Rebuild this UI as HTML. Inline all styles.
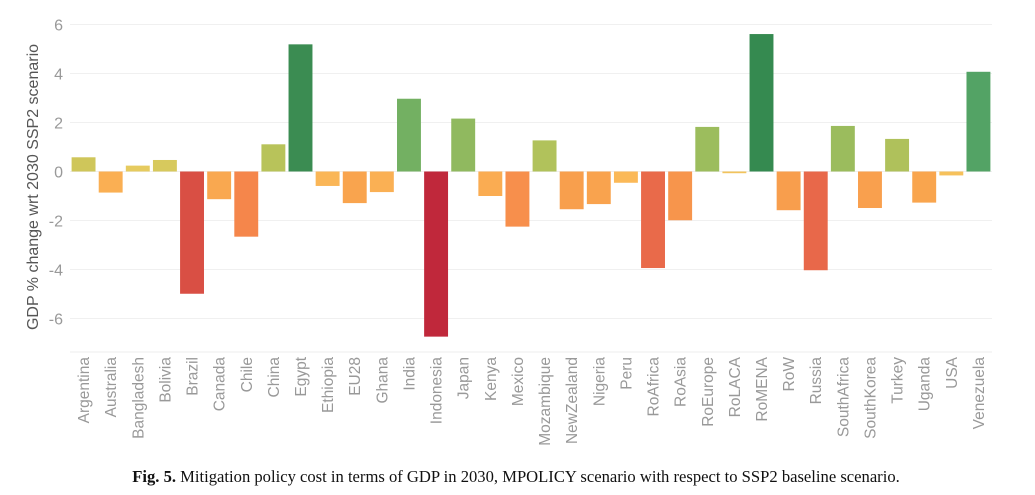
<!DOCTYPE html>
<html><head><meta charset="utf-8"><style>
body{margin:0;background:#fff;width:1035px;height:495px;overflow:hidden}
svg{display:block}
</style></head><body>
<svg id="chart" width="1035" height="495" xmlns="http://www.w3.org/2000/svg">
<g id="grid"></g>
<g id="bars"></g>
<g id="yticks"></g>
<g id="xlabels"></g>
<line x1="70" y1="352" x2="992" y2="352" stroke="#eeeeee" stroke-width="1"/>
<text transform="translate(38,187) rotate(-90)" text-anchor="middle" font-family="Liberation Sans, sans-serif" font-size="16" fill="#555">GDP % change wrt 2030 SSP2 scenario</text>
<text x="516" y="482" text-anchor="middle" font-family="Liberation Serif, serif" font-size="16.6" fill="#111"><tspan font-weight="bold">Fig. 5.</tspan> Mitigation policy cost in terms of GDP in 2030, MPOLICY scenario with respect to SSP2 baseline scenario.</text>
</svg>
<script>
const categories=["Argentina","Australia","Bangladesh","Bolivia","Brazil","Canada","Chile","China","Egypt","Ethiopia","EU28","Ghana","India","Indonesia","Japan","Kenya","Mexico","Mozambique","NewZealand","Nigeria","Peru","RoAfrica","RoAsia","RoEurope","RoLACA","RoMENA","RoW","Russia","SouthAfrica","SouthKorea","Turkey","Uganda","USA","Venezuela"];
const values=[0.58,-0.86,0.24,0.47,-4.99,-1.13,-2.66,1.11,5.19,-0.59,-1.29,-0.84,2.97,-6.74,2.16,-1.0,-2.25,1.27,-1.54,-1.33,-0.46,-3.94,-1.99,1.82,-0.07,5.61,-1.58,-4.03,1.86,-1.49,1.33,-1.27,-0.16,4.07];
const yTicks=[6,4,2,0,-2,-4,-6];
const NS="http://www.w3.org/2000/svg";
const plotL=70,plotR=992,zeroY=171.5,pxPerUnit=24.5;
const band=(plotR-plotL)/categories.length;
function y(v){return zeroY-v*pxPerUnit;}
function x(i){return plotL+i*band;}
function color(v){
  const stops=[[-6.7,[192,40,59]],[-5,[217,79,68]],[-4,[232,105,74]],[-2.5,[246,138,75]],[-1.3,[249,164,78]],[-0.3,[251,189,90]],[0.3,[228,204,96]],[0.6,[205,198,90]],[1.1,[184,195,90]],[1.8,[157,189,93]],[3,[114,176,98]],[4,[85,164,102]],[5.2,[59,140,82]],[5.7,[52,138,79]]];
  if(v<=stops[0][0])return"rgb("+stops[0][1]+")";
  for(let i=1;i<stops.length;i++){if(v<=stops[i][0]){const a=stops[i-1],b=stops[i],t=(v-a[0])/(b[0]-a[0]);return"rgb("+a[1].map((c,k)=>Math.round(c+(b[1][k]-c)*t)).join(",")+")";}}
  return"rgb("+stops[stops.length-1][1]+")";
}
const grid=document.getElementById("grid"),bars=document.getElementById("bars"),yt=document.getElementById("yticks"),xl=document.getElementById("xlabels");
yTicks.forEach(t=>{
  const l=document.createElementNS(NS,"line");
  
  
  l.setAttribute("x1",plotL);l.setAttribute("x2",plotR);l.setAttribute("y1",y(t));l.setAttribute("y2",y(t));
  l.setAttribute("stroke","#f0f0f0");grid.appendChild(l);
  const tx=document.createElementNS(NS,"text");
  
  
  tx.setAttribute("x",63);tx.setAttribute("y",y(t)+6);tx.setAttribute("text-anchor","end");
  tx.setAttribute("font-family","Liberation Sans, sans-serif");tx.setAttribute("font-size","16");tx.setAttribute("fill","#999");
  tx.textContent=t;yt.appendChild(tx);
});
categories.forEach((c,i)=>{
  const v=values[i];
  const r=document.createElementNS(NS,"rect");
  
  
  const y0=Math.min(y(v),zeroY),h=Math.max(Math.abs(y(v)-zeroY),1.5);
  r.setAttribute("x",x(i)+1.6);r.setAttribute("width",band-3.2);r.setAttribute("y",y0);r.setAttribute("height",h);
  r.setAttribute("fill",color(v));bars.appendChild(r);
  const t=document.createElementNS(NS,"text");
  
  
  const cx=x(i)+band/2+5.5;
  t.setAttribute("transform","translate("+cx+",357) rotate(-90)");
  t.setAttribute("text-anchor","end");
  t.setAttribute("font-family","Liberation Sans, sans-serif");t.setAttribute("font-size","15.5");t.setAttribute("fill","#999");
  t.textContent=c;xl.appendChild(t);
});
</script>
</body></html>
